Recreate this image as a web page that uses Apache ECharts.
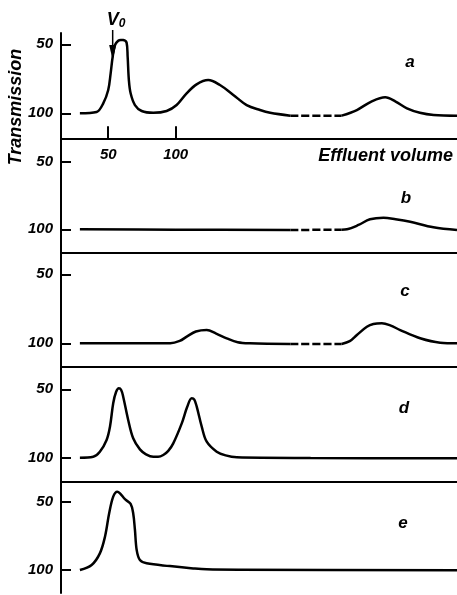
<!DOCTYPE html>
<html>
<head>
<meta charset="utf-8">
<script src="https://cdn.jsdelivr.net/npm/echarts/dist/echarts.min.js"></script>
<style>
  html, body { margin: 0; padding: 0; background: #fff; }
  #main { width: 457px; height: 595px; }
</style>
</head>
<body>
<div id="main"></div>
<script>
// effluent volume axis (units), break shown as dashed stretch
const xMin = 15, xMax = 308.5;
const breakFrom = 185, breakTo = 223;
const xTicks = [50, 100];
const yTicks = [50, 100];
const panelNames = ['a', 'b', 'c', 'd', 'e'];

// [volume, transmission]
const curveA = [
  [29, 100], [41.4, 99], [46.3, 92.8], [50, 83.1], [51.8, 71], [53.3, 59], [55, 50.5],
  [57.4, 47.4], [59.3, 46.8], [61.1, 46.9], [63.6, 48.8], [64.4, 59], [65.3, 75.9],
  [66.6, 85.5], [69.8, 94], [74.8, 98.3], [83.4, 99.6], [93.3, 98.3], [100.7, 94],
  [108.1, 85.5], [115.5, 79], [124.1, 75.9], [132.8, 79.5], [142.7, 86.7], [152.6, 94],
  [162.5, 97.6], [170, 99.6], [185, 101.7], [223, 101.7], [234.3, 97.6], [245, 91.5],
  [255.3, 88.4], [263, 91.5], [271.4, 96.4], [281, 99.6], [291.2, 101.2], [308.5, 101.7]
];
const curveB = [
  [29, 100], [100, 100.3], [185, 100.5], [223, 100.3], [227, 100], [235.5, 96.8],
  [244, 92.6], [254, 91.4], [263, 92.5], [273.8, 94.4], [291, 98.5], [308.5, 100.5]
];
const curveC = [
  [29, 100], [96, 100], [103, 98.3], [108.2, 95.2], [115, 91.5], [123, 90.4], [130, 93],
  [137.8, 96.4], [146, 99.2], [155, 100], [185, 100.5], [223, 100.5], [229, 98.5],
  [234.3, 94], [241.7, 88], [246.5, 86], [252.8, 85.5], [259, 87], [266.4, 90.4],
  [281.2, 96.4], [296, 99.6], [308.5, 100]
];
const curveD = [
  [29, 100], [38.9, 99.3], [43.8, 95.6], [48.8, 87], [51.3, 77.3], [53.7, 60.2], [55.8, 52],
  [57.9, 49.3], [59.6, 50.5], [61.1, 55.4], [64.8, 72.4], [68.5, 85.8], [73.5, 93.9],
  [78, 97.5], [83.4, 99.3], [87, 99.3], [90.8, 98], [94.5, 95], [98.2, 89.5], [104.5, 74.9],
  [108.5, 63], [111.9, 56.6], [113.8, 57.5], [115.6, 62.7], [119.3, 77.3], [123, 88.3],
  [130.4, 95.6], [137, 98.3], [145.3, 99.7], [200, 100.2], [308.5, 100.4]
];
const curveE = [
  [29, 100], [37.7, 96.3], [43.8, 87.8], [47.6, 75.6], [50.7, 58.5], [53.7, 46.3],
  [56.7, 42.7], [58.7, 43.9], [62.4, 48.2], [66.6, 51.7], [68.5, 58.5], [69.8, 70.7],
  [71.1, 85.4], [73.5, 92.7], [78.5, 95.1], [95.7, 97.1], [113, 98.8], [122.9, 99.5],
  [147.6, 99.8], [308.5, 100.2]
];
const curves = [curveA, curveB, curveC, curveD, curveE];
const hasBreak = [true, true, true, false, false];

// V0 marker
const v0Volume = 53.3, v0Tip = 61.4;

const font = { fontFamily: 'Liberation Sans', fontStyle: 'italic', fontWeight: 'bold', fontSize: 15, color: '#000' };
const textFont = 'italic bold 18px "Liberation Sans"';
const letterFont = 'italic bold 17px "Liberation Sans"';

// pixel frames of the five stacked panels + their visible transmission range
const frames = [
  { top: 33, height: 105.3, min: 41.8, max: 118.1 },
  { top: 138.3, height: 114.4, min: 32.7, max: 117.3 },
  { top: 252.7, height: 114, min: 34.3, max: 117 },
  { top: 366.7, height: 115, min: 33.5, max: 117.5 },
  { top: 481.7, height: 111.3, min: 35.4, max: 116.8 }
];

const chart = echarts.init(document.getElementById('main'));

const grid = frames.map(f => ({ left: 61, right: 0, top: f.top, height: f.height }));

const xAxis = frames.map((f, i) => ({
  type: 'value', gridIndex: i, min: xMin, max: xMax,
  axisLine: { show: i < 4, onZero: false, lineStyle: { color: '#000', width: 2 } },
  axisTick: { show: i === 0, inside: true, length: 12, customValues: xTicks, lineStyle: { color: '#000', width: 2 } },
  axisLabel: Object.assign({ show: i === 0, margin: 9, customValues: xTicks }, font),
  splitLine: { show: false }
}));

const yAxis = frames.map((f, i) => ({
  type: 'value', gridIndex: i, inverse: true, min: f.min, max: f.max,
  axisLine: { show: true, onZero: false, lineStyle: { color: '#000', width: 2 } },
  axisTick: { show: true, inside: true, length: 10, customValues: yTicks, lineStyle: { color: '#000', width: 2 } },
  axisLabel: Object.assign({ margin: 8, customValues: yTicks }, font),
  splitLine: { show: false }
}));

function lineSeries(i, data, dashed) {
  return {
    type: 'line', xAxisIndex: i, yAxisIndex: i, data: data,
    showSymbol: false, smooth: 0.35, silent: true,
    lineStyle: { color: '#000', width: 2.5, type: dashed ? [8, 3] : 'solid' }
  };
}

const series = [];
curves.forEach((c, i) => {
  if (hasBreak[i]) {
    series.push(lineSeries(i, c.filter(p => p[0] <= breakFrom), false));
    series.push(lineSeries(i, c.filter(p => p[0] >= breakFrom && p[0] <= breakTo), true));
    series.push(lineSeries(i, c.filter(p => p[0] >= breakTo), false));
  } else {
    series.push(lineSeries(i, c, false));
  }
});

const letterPos = [[410, 62], [406, 198], [405, 291], [404, 408], [403, 523]];
const graphic = panelNames.map((n, i) => ({
  type: 'text', x: letterPos[i][0], y: letterPos[i][1],
  style: { text: n, font: letterFont, fill: '#000', align: 'center', verticalAlign: 'middle' }
}));
graphic.push({
  type: 'text', x: 453, y: 156,
  style: { text: 'Effluent volume', font: textFont, fill: '#000', align: 'right', verticalAlign: 'middle' }
});
graphic.push({
  type: 'text', x: 16, y: 107, rotation: Math.PI / 2,
  style: { text: 'Transmission', font: textFont, fill: '#000', align: 'center', verticalAlign: 'middle' }
});

chart.setOption({
  animation: false,
  backgroundColor: '#fff',
  grid: grid, xAxis: xAxis, yAxis: yAxis, series: series, graphic: graphic
});

// V0 arrow, placed through the panel-a scales
const tip = chart.convertToPixel({ xAxisIndex: 0, yAxisIndex: 0 }, [v0Volume, v0Tip]);
graphic.push({
  type: 'line', shape: { x1: tip[0], y1: 30, x2: tip[0], y2: tip[1] - 12 },
  style: { stroke: '#000', lineWidth: 1.5 }
});
graphic.push({
  type: 'polygon', shape: { points: [[tip[0] - 3.5, tip[1] - 15], [tip[0] + 3.5, tip[1] - 15], [tip[0], tip[1]]] },
  style: { fill: '#000' }
});
graphic.push({
  type: 'text', x: tip[0] - 6, y: 30,
  style: {
    text: '{v|V}{s|0}', fill: '#000', verticalAlign: 'bottom',
    rich: {
      v: { font: textFont, fill: '#000' },
      s: { font: 'italic bold 12px "Liberation Sans"', fill: '#000', padding: [7, 0, 0, 0] }
    }
  }
});
chart.setOption({ graphic: graphic });
</script>
</body>
</html>
